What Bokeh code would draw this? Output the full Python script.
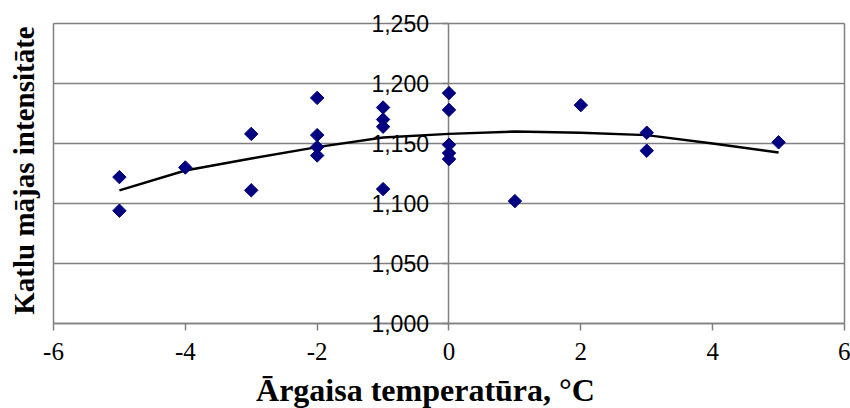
import math
from bokeh.plotting import figure
from bokeh.models import (FixedTicker, CustomJSTickFormatter, Range1d, ColumnDataSource,
                          Label, LinearAxis)
from bokeh.embed import file_html
from bokeh.resources import INLINE

# data
temp_x = [-5, -5, -4, -3, -3, -2, -2, -2, -2, -1, -1, -1, -1, 0, 0, 0, 0, 0, 1, 2, 3, 3, 5]
intensity = [1.122, 1.094, 1.130, 1.158, 1.111, 1.188, 1.157, 1.147, 1.140,
             1.180, 1.170, 1.164, 1.112, 1.192, 1.178, 1.149, 1.142, 1.137,
             1.102, 1.182, 1.159, 1.144, 1.151]
trend_x = [-5, -4, -3, -2, -1, 0, 1, 2, 3, 4, 5]
trend_y = [1.111, 1.1275, 1.1375, 1.147, 1.155, 1.158, 1.160, 1.159, 1.157, 1.150, 1.1425]
x_ticks = [-6, -4, -2, 0, 2, 4, 6]
y_ticks = [1.000, 1.050, 1.100, 1.150, 1.200, 1.250]
x_title = "Ārgaisa temperatūra, °C"
y_title = "Katlu mājas intensitāte"

X_MIN, X_MAX = -6, 6
Y_MIN, Y_MAX = 1.0, 1.25
GRID = "#808080"

# The frame covers the whole canvas so that axis texts at fixed positions are not clipped.
p = figure(width=850, height=408, output_backend="svg", toolbar_location=None,
           x_range=Range1d(-6.804, 6.091), y_range=Range1d(0.92917, 1.26917),
           min_border_left=0, min_border_right=0, min_border_top=0, min_border_bottom=0)
p.outline_line_color = None
p.background_fill_color = "white"
p.border_fill_color = "white"
p.xgrid.visible = False
p.ygrid.visible = False


def plain_axis(axis):
    axis.ticker = FixedTicker(ticks=[])
    axis.major_tick_line_color = None
    axis.minor_tick_line_color = None
    axis.major_label_text_color = None
    axis.axis_line_color = GRID
    axis.axis_line_width = 1.5
    axis.level = "underlay"
    return axis


# horizontal grid lines (the top one is the border of the plot area)
p.segment(x0=X_MIN, x1=X_MAX, y0=y_ticks, y1=y_ticks, line_color=GRID, line_width=1.5,
          level="underlay")
# left and right borders of the plot area
p.add_layout(plain_axis(LinearAxis(fixed_location=X_MIN, bounds=(Y_MIN, Y_MAX))), "left")
p.add_layout(plain_axis(LinearAxis(fixed_location=X_MAX, bounds=(Y_MIN, Y_MAX))), "right")

# x axis at y = 1.0
xa = p.xaxis[0]
xa.fixed_location = Y_MIN
xa.bounds = (X_MIN, X_MAX)
xa.level = "underlay"
xa.ticker = FixedTicker(ticks=x_ticks)
xa.formatter = CustomJSTickFormatter(code="return tick.toString();")
xa.axis_line_color = GRID
xa.axis_line_width = 1.5
xa.major_tick_line_color = GRID
xa.major_tick_line_width = 1.5
xa.major_tick_in = 0
xa.major_tick_out = 7
xa.minor_tick_line_color = None
xa.major_label_text_font = "Liberation Serif"
xa.major_label_text_font_size = "25px"
xa.major_label_text_color = "black"
xa.major_label_standoff = 12

# y axis at x = 0
ya = p.yaxis[0]
ya.fixed_location = 0
ya.bounds = (Y_MIN, Y_MAX)
ya.level = "underlay"
ya.ticker = FixedTicker(ticks=y_ticks)
ya.formatter = CustomJSTickFormatter(code="return tick.toFixed(3).replace('.', ',');")
ya.axis_line_color = GRID
ya.axis_line_width = 1.5
ya.major_tick_line_color = GRID
ya.major_tick_line_width = 1.5
ya.major_tick_in = 0
ya.major_tick_out = 6
ya.minor_tick_line_color = None
ya.major_label_text_font = "Liberation Sans"
ya.major_label_text_font_size = "23px"
ya.major_label_text_color = "black"
ya.major_label_standoff = 14

# axis titles
p.add_layout(Label(x=425, y=19, x_units="screen", y_units="screen", text=x_title,
                   text_align="center", text_baseline="middle",
                   text_font="Liberation Serif", text_font_style="bold",
                   text_font_size="32px", text_color="black"))
p.add_layout(Label(x=23, y=238, x_units="screen", y_units="screen", text=y_title,
                   angle=math.pi / 2, text_align="center", text_baseline="middle",
                   text_font="Liberation Serif", text_font_style="bold",
                   text_font_size="29px", text_color="black"))

p.line(trend_x, trend_y, line_color="black", line_width=2.4)
src = ColumnDataSource(dict(x=temp_x, y=intensity))
p.scatter("x", "y", source=src, marker="square", angle=math.pi / 4, size=9.5,
          fill_color="#000080", line_color="#000080")

open("out.html", "w").write(file_html(p, INLINE))
